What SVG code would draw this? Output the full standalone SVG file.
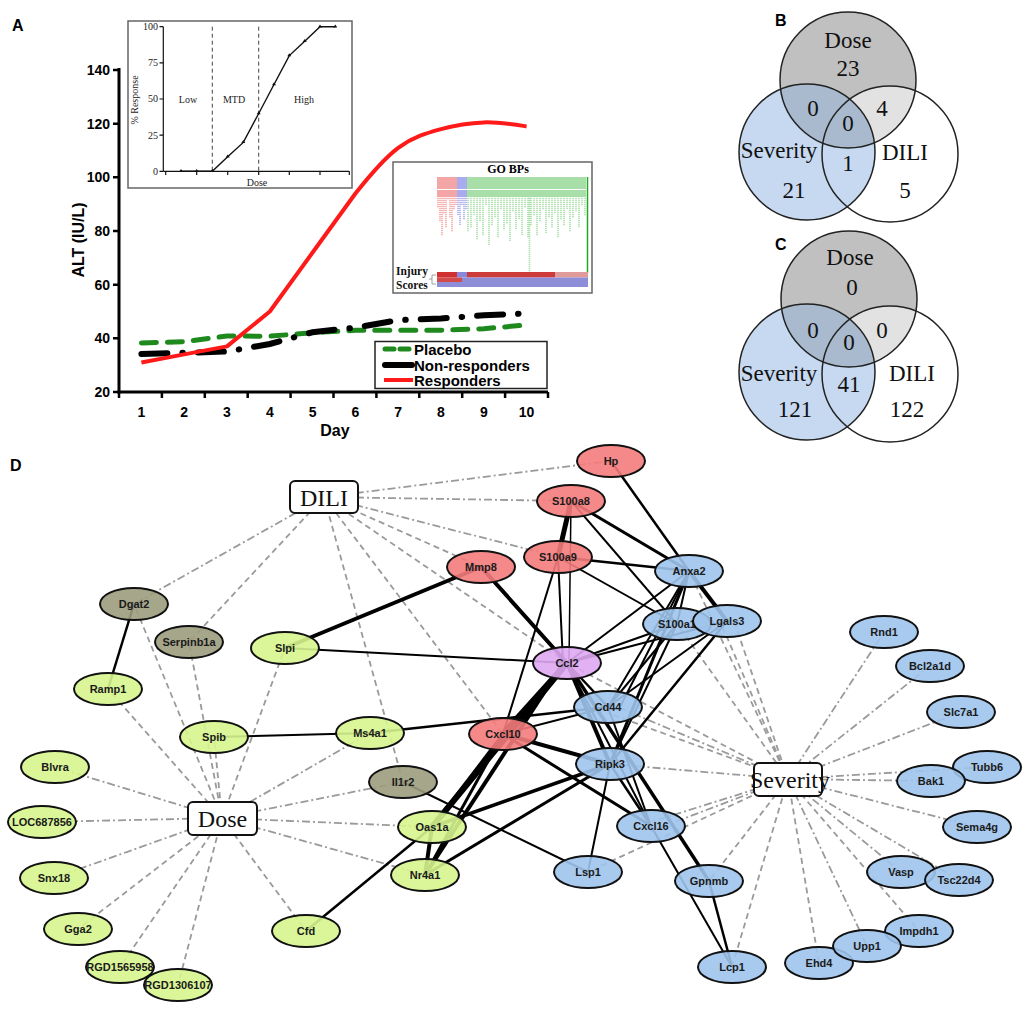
<svg xmlns="http://www.w3.org/2000/svg" width="1028" height="1011" viewBox="0 0 1028 1011">
<style>
.pl{font-family:"Liberation Sans",Arial,sans-serif;font-weight:bold;font-size:16px}
.ax{font-family:"Liberation Sans",Arial,sans-serif;font-weight:bold;font-size:14px;dominant-baseline:central}
.lg{font-family:"Liberation Sans",Arial,sans-serif;font-weight:bold;font-size:15px;dominant-baseline:central}
.st{font-family:"Liberation Serif","Times New Roman",serif;font-size:10px;fill:#222}
.vn{font-family:"Liberation Serif","Times New Roman",serif;font-size:23px;text-anchor:middle;dominant-baseline:central;fill:#111}
.vc{stroke:#222;stroke-width:1.5}
.nd{stroke:#111;stroke-width:2;fill-opacity:0.9}
.red{fill:#f47c7c}
.blu{fill:#9ec4ec}
.grn{fill:#d6f58e}
.olv{fill:#9c9c7e}
.pur{fill:#dfa9f2}
.nl{font-family:"Liberation Sans",Arial,sans-serif;font-weight:bold;font-size:11px;text-anchor:middle;dominant-baseline:central;fill:#1a1a1a}
.hub{fill:#fff;stroke:#111;stroke-width:2}
.hl{font-family:"Liberation Serif","Times New Roman",serif;font-size:24px;text-anchor:middle;dominant-baseline:central;fill:#111}
.g{stroke:#9a9a9a;stroke-width:1.8;fill:none;stroke-dasharray:8 3 2 3}
.gd{stroke-dasharray:6 4}
.k{stroke:#000;fill:none}
</style>
<defs>
<clipPath id="cSevB"><circle cx="807" cy="152" r="68"/></clipPath>
<clipPath id="cDiliB"><circle cx="890" cy="154" r="68"/></clipPath>
<clipPath id="cSevC"><circle cx="807" cy="372" r="68"/></clipPath>
<clipPath id="cDiliC"><circle cx="890" cy="374" r="68"/></clipPath>
</defs>
<rect width="1028" height="1011" fill="#fff"/>

<!-- Panel A -->
<g id="panelA">
<text class="pl" x="12" y="31">A</text>
<g id="axes" stroke="#000" stroke-width="3" fill="none">
<line x1="119" y1="68" x2="119" y2="393.5"/>
<line x1="117.5" y1="392" x2="548" y2="392"/>
<path d="M119 70H113M119 123.7H113M119 177.3H113M119 231H113M119 284.7H113M119 338.3H113M119 392H113" stroke-width="2.5"/>
<path d="M119 392V398M161.9 392V398M204.8 392V398M247.7 392V398M290.6 392V398M333.5 392V398M376.4 392V398M419.3 392V398M462.2 392V398M505.1 392V398M548 392V398" stroke-width="2.5"/>
</g>
<g class="ax" text-anchor="end">
<text x="110" y="70">140</text><text x="110" y="123.7">120</text><text x="110" y="177.3">100</text><text x="110" y="231">80</text><text x="110" y="284.7">60</text><text x="110" y="338.3">40</text><text x="110" y="392">20</text>
</g>
<g class="ax" text-anchor="middle">
<text x="141.4" y="412">1</text><text x="184.2" y="412">2</text><text x="227" y="412">3</text><text x="269.8" y="412">4</text><text x="312.6" y="412">5</text><text x="355.4" y="412">6</text><text x="398.2" y="412">7</text><text x="441" y="412">8</text><text x="483.8" y="412">9</text><text x="526.6" y="412">10</text>
</g>
<text class="pl" x="335" y="436" text-anchor="middle">Day</text>
<text class="pl" transform="translate(84,240) rotate(-90)" text-anchor="middle">ALT (IU/L)</text>

<polyline id="placebo" points="141.4,342.9 184.2,341.7 227,336 269.8,336.2 312.6,332.7 355.4,330.3 398.2,330.3 441,330.3 483.8,328.7 526.6,325" fill="none" stroke="#1e8a1e" stroke-width="5" stroke-dasharray="15 11" stroke-linecap="round"/>
<polyline id="nonresp" points="141.4,353.9 184.2,352.8 227,351.5 269.8,344 312.6,332.2 355.4,327.6 398.2,320.1 441,318.5 483.8,315.3 526.6,313.4" fill="none" stroke="#000" stroke-width="6" stroke-dasharray="26 15 0.5 15" stroke-linecap="round"/>
<path id="resp" d="M141.4,362.5 L184.2,354.4 L227,346.4 L269.8,311.5 L312.6,252.5 L355.4,193.5 C369.7,175.4 383.9,158.6 398.2,147.8 C412.5,137 426.7,133 441,129.1 C455.3,125.2 469.5,122.9 483.8,122.4 C498.1,121.9 512.3,124.2 526.6,126.4" fill="none" stroke="#ff1a1a" stroke-width="4" stroke-linejoin="round"/>

<g id="legend">
<rect x="375" y="341.5" width="172" height="47" fill="#fff" stroke="#222" stroke-width="1.5"/>
<line x1="385" y1="349" x2="412" y2="349" stroke="#1e8a1e" stroke-width="5" stroke-dasharray="9 6" stroke-linecap="round"/>
<line x1="385" y1="365" x2="412" y2="365" stroke="#000" stroke-width="6" stroke-linecap="round"/>
<line x1="384" y1="380" x2="413" y2="380" stroke="#ff1a1a" stroke-width="4"/>
<text class="lg" x="414" y="349">Placebo</text>
<text class="lg" x="414" y="365">Non-responders</text>
<text class="lg" x="414" y="380">Responders</text>
</g>

<g id="inset-dose">
<rect x="128" y="21" width="224" height="167" fill="#fff" stroke="#666" stroke-width="1.5"/>
<g stroke="#111" stroke-width="1.2" fill="none">
<line x1="163.3" y1="26.7" x2="163.3" y2="171.3"/>
<line x1="163.3" y1="171.3" x2="349.3" y2="171.3"/>
<path d="M163.3 26.7H159.5M163.3 62.9H159.5M163.3 99H159.5M163.3 135.2H159.5M163.3 171.3H159.5"/>
<path d="M165.7 171.3V175M196.7 171.3V175M227.7 171.3V175M258.7 171.3V175M289.3 171.3V175M320 171.3V175M349.3 171.3V175"/>
</g>
<g stroke="#444" stroke-width="1" stroke-dasharray="4 3">
<line x1="212.3" y1="26.7" x2="212.3" y2="171.3"/>
<line x1="258.7" y1="26.7" x2="258.7" y2="171.3"/>
</g>
<polyline points="181,171.3 196.7,171.3 212.3,171.3 227.7,156.8 243.3,142.4 258.7,113.5 274,84.5 289.3,55.6 304.7,41.2 320,26.7 335.3,26.7" fill="none" stroke="#111" stroke-width="1.4"/>
<g fill="#111">
<path d="M181 169l2 3h-4z M196.7 169l2 3h-4z M212.3 169l2 3h-4z M227.7 154.5l2 3h-4z M243.3 140.1l2 3h-4z M258.7 111.2l2 3h-4z M274 82.2l2 3h-4z M289.3 53.3l2 3h-4z M304.7 38.9l2 3h-4z M320 24.4l2 3h-4z M335.3 24.4l2 3h-4z"/>
</g>
<g class="st" text-anchor="end">
<text x="158" y="30">100</text><text x="158" y="66">75</text><text x="158" y="102">50</text><text x="158" y="138.5">25</text><text x="158" y="174.5">0</text>
</g>
<g class="st" text-anchor="middle">
<text x="188" y="103">Low</text><text x="234" y="103">MTD</text><text x="304" y="103">High</text>
<text x="257" y="186">Dose</text>
<text transform="translate(138,100) rotate(-90)">% Response</text>
</g>
</g>

<g id="inset-go">
<rect x="393" y="162" width="199" height="131" fill="#fff" stroke="#666" stroke-width="1.5"/>
<text x="508" y="169" text-anchor="middle" font-family="'Liberation Serif','Times New Roman',serif" font-weight="bold" font-size="12" dominant-baseline="central">GO BPs</text>
<rect x="437" y="177" width="20" height="20" fill="#f4a6a6"/>
<rect x="457" y="177" width="10" height="20" fill="#aaaaee"/>
<rect x="467" y="177" width="119" height="20" fill="#a8dfa8"/>
<line x1="437" y1="189.5" x2="586" y2="189.5" stroke="#fff" stroke-width="1"/>
<path d="M438 196V208M440 196V222M442 196V236M444 196V214M446 196V228M448 196V200M450 196V218M452 196V232M454 196V210M456 196V205" stroke="#f4a6a6" stroke-width="1.6" stroke-dasharray="1.2 0.8"/>
<path d="M458 196V215M460 196V225M462 196V205M464 196V220M466 196V210" stroke="#aaaaee" stroke-width="1.6" stroke-dasharray="1.2 0.8"/>
<path d="M468 196V232M471 196V228M474 196V215M477 196V240M480 196V222M483 196V236M486 196V205M489 196V245M492 196V226M495 196V218M498 196V238M501 196V210M504 196V230M507 196V224M510 196V241M513 196V212M516 196V229M519 196V219M522 196V235M525 196V208M528 196V238M529.5 196V272M531 196V226M534 196V216M537 196V236M540 196V222M543 196V210M546 196V233M549 196V218M552 196V228M555 196V214M558 196V238M561 196V220M564 196V226M567 196V209M570 196V232M573 196V218M576 196V212M579 196V228M582 196V206M585 196V216" stroke="#a8dfa8" stroke-width="1.6" stroke-dasharray="1.2 0.8"/>
<line x1="587.5" y1="177" x2="587.5" y2="273" stroke="#22aa22" stroke-width="1.5"/>
<rect x="437" y="272" width="20" height="5.5" fill="#d03030"/>
<rect x="457" y="272" width="10" height="5.5" fill="#8888dd"/>
<rect x="467" y="272" width="88" height="5.5" fill="#cc3a3a"/>
<rect x="555" y="272" width="33" height="5.5" fill="#e09a9a"/>
<rect x="437" y="277.5" width="25" height="4.5" fill="#d24a4a"/>
<rect x="462" y="277.5" width="126" height="4.5" fill="#8e8ed8"/>
<rect x="437" y="282" width="151" height="5" fill="#8e8ed8"/>
<path d="M436 275H432V284H436M432 279H429" stroke="#888" stroke-width="0.8" fill="none"/>
<g font-family="'Liberation Serif','Times New Roman',serif" font-weight="bold" font-size="11.5" fill="#111">
<text x="396" y="275">Injury</text>
<text x="396" y="289">Scores</text>
</g>
</g>
</g>

<!-- Panel B -->
<g id="panelB">
<text class="pl" x="775" y="26">B</text>
<circle cx="890" cy="154" r="68" fill="#fff"/>
<circle cx="848" cy="80" r="68" fill="#c0c0c0"/>
<circle cx="848" cy="80" r="68" fill="#e2e2e2" clip-path="url(#cDiliB)"/>
<circle cx="807" cy="152" r="68" fill="#c6d9f1"/>
<circle cx="848" cy="80" r="68" fill="#a9bace" clip-path="url(#cSevB)"/>
<g fill="none" class="vc">
<circle cx="848" cy="80" r="68"/><circle cx="807" cy="152" r="68"/><circle cx="890" cy="154" r="68"/>
</g>
<text class="vn" x="848" y="40">Dose</text>
<text class="vn" x="848" y="68">23</text>
<text class="vn" x="813" y="108">0</text>
<text class="vn" x="882" y="108">4</text>
<text class="vn" x="848" y="123">0</text>
<text class="vn" x="779" y="150">Severity</text>
<text class="vn" x="848" y="163">1</text>
<text class="vn" x="905" y="152">DILI</text>
<text class="vn" x="794" y="190">21</text>
<text class="vn" x="905" y="190">5</text>
</g>

<!-- Panel C -->
<g id="panelC">
<text class="pl" x="775" y="250">C</text>
<circle cx="890" cy="374" r="68" fill="#fff"/>
<circle cx="849" cy="299" r="68" fill="#c0c0c0"/>
<circle cx="849" cy="299" r="68" fill="#e2e2e2" clip-path="url(#cDiliC)"/>
<circle cx="807" cy="372" r="68" fill="#c6d9f1"/>
<circle cx="849" cy="299" r="68" fill="#a9bace" clip-path="url(#cSevC)"/>
<g fill="none" class="vc">
<circle cx="849" cy="299" r="68"/><circle cx="807" cy="372" r="68"/><circle cx="890" cy="374" r="68"/>
</g>
<text class="vn" x="850" y="257">Dose</text>
<text class="vn" x="852" y="287">0</text>
<text class="vn" x="813" y="330">0</text>
<text class="vn" x="882" y="330">0</text>
<text class="vn" x="849" y="342">0</text>
<text class="vn" x="779" y="373">Severity</text>
<text class="vn" x="849" y="384">41</text>
<text class="vn" x="912" y="373">DILI</text>
<text class="vn" x="795" y="409">121</text>
<text class="vn" x="907" y="409">122</text>
</g>

<!-- Panel D -->
<text class="pl" x="10" y="471">D</text>
<g id="connectors">
<g id="hub-edges" class="g">
<line x1="324" y1="497" x2="611" y2="461"/>
<line x1="324" y1="497" x2="571" y2="501"/>
<line x1="324" y1="497" x2="558" y2="557"/>
<line x1="324" y1="497" x2="481" y2="567" class="gd"/>
<line x1="324" y1="497" x2="567" y2="663" class="gd"/>
<line x1="324" y1="497" x2="503" y2="734" class="gd"/>
<line x1="324" y1="497" x2="403" y2="782" class="gd"/>
<line x1="324" y1="497" x2="189" y2="642" class="gd"/>
<line x1="324" y1="497" x2="134" y2="604"/>
<line x1="222" y1="818" x2="55" y2="767"/>
<line x1="222" y1="818" x2="42" y2="822"/>
<line x1="222" y1="818" x2="54" y2="878"/>
<line x1="222" y1="818" x2="78" y2="929" class="gd"/>
<line x1="222" y1="818" x2="120" y2="967" class="gd"/>
<line x1="222" y1="818" x2="178" y2="985" class="gd"/>
<line x1="222" y1="818" x2="306" y2="931" class="gd"/>
<line x1="222" y1="818" x2="425" y2="875"/>
<line x1="222" y1="818" x2="432" y2="827"/>
<line x1="222" y1="818" x2="403" y2="782"/>
<line x1="222" y1="818" x2="370" y2="733"/>
<line x1="222" y1="818" x2="285" y2="648" class="gd"/>
<line x1="222" y1="818" x2="214" y2="737" class="gd"/>
<line x1="222" y1="818" x2="189" y2="642" class="gd"/>
<line x1="222" y1="818" x2="134" y2="604" class="gd"/>
<line x1="222" y1="818" x2="108" y2="689" class="gd"/>
<line x1="788" y1="779" x2="689" y2="571" class="gd"/>
<line x1="788" y1="779" x2="677" y2="624" class="gd"/>
<line x1="788" y1="779" x2="720" y2="621" class="gd"/>
<line x1="788" y1="779" x2="734" y2="621" class="gd"/>
<line x1="788" y1="779" x2="567" y2="663" class="gd"/>
<line x1="788" y1="779" x2="608" y2="703"/>
<line x1="788" y1="779" x2="608" y2="713" class="gd"/>
<line x1="788" y1="779" x2="610" y2="764"/>
<line x1="788" y1="779" x2="651" y2="822"/>
<line x1="788" y1="779" x2="651" y2="831"/>
<line x1="788" y1="779" x2="588" y2="872" class="gd"/>
<line x1="788" y1="779" x2="709" y2="881" class="gd"/>
<line x1="788" y1="779" x2="732" y2="967" class="gd"/>
<line x1="788" y1="779" x2="819" y2="963" class="gd"/>
<line x1="788" y1="779" x2="867" y2="946"/>
<line x1="788" y1="779" x2="919" y2="931" class="gd"/>
<line x1="788" y1="779" x2="901" y2="872"/>
<line x1="788" y1="779" x2="959" y2="880"/>
<line x1="788" y1="779" x2="977" y2="827"/>
<line x1="788" y1="779" x2="931" y2="781"/>
<line x1="788" y1="779" x2="987" y2="767"/>
<line x1="788" y1="779" x2="961" y2="712"/>
<line x1="788" y1="779" x2="930" y2="666"/>
<line x1="788" y1="779" x2="884" y2="632"/>
</g>
<g id="gene-edges" class="k">
<line x1="134" y1="604" x2="108" y2="689" stroke-width="2.5"/>
<line x1="285" y1="648" x2="481" y2="567" stroke-width="4"/>
<line x1="285" y1="648" x2="567" y2="663" stroke-width="2"/>
<line x1="214" y1="737" x2="370" y2="733" stroke-width="2"/>
<line x1="370" y1="733" x2="608" y2="707" stroke-width="2.5"/>
<line x1="403" y1="782" x2="588" y2="872" stroke-width="2"/>
<line x1="432" y1="827" x2="306" y2="931" stroke-width="2.5"/>
<line x1="432" y1="827" x2="425" y2="875" stroke-width="4"/>
<line x1="432" y1="827" x2="567" y2="663" stroke-width="6"/>
<line x1="425" y1="875" x2="562" y2="665" stroke-width="4"/>
<line x1="432" y1="827" x2="503" y2="734" stroke-width="3"/>
<line x1="425" y1="875" x2="503" y2="734" stroke-width="3"/>
<line x1="432" y1="827" x2="610" y2="764" stroke-width="3.5"/>
<line x1="425" y1="875" x2="610" y2="764" stroke-width="3"/>
<line x1="611" y1="461" x2="689" y2="571" stroke-width="2.5"/>
<line x1="571" y1="501" x2="558" y2="557" stroke-width="5"/>
<line x1="571" y1="501" x2="689" y2="571" stroke-width="3"/>
<line x1="571" y1="501" x2="677" y2="624" stroke-width="2"/>
<line x1="571" y1="501" x2="569" y2="663" stroke-width="1.5"/>
<line x1="558" y1="557" x2="563" y2="663" stroke-width="2"/>
<line x1="558" y1="557" x2="689" y2="571" stroke-width="2.5"/>
<line x1="558" y1="557" x2="677" y2="624" stroke-width="2"/>
<line x1="558" y1="557" x2="503" y2="734" stroke-width="2"/>
<line x1="481" y1="567" x2="567" y2="663" stroke-width="4"/>
<line x1="689" y1="571" x2="567" y2="663" stroke-width="2"/>
<line x1="689" y1="571" x2="677" y2="624" stroke-width="2"/>
<line x1="689" y1="571" x2="727" y2="621" stroke-width="4"/>
<line x1="689" y1="571" x2="608" y2="707" stroke-width="2"/>
<line x1="689" y1="571" x2="620" y2="707" stroke-width="2"/>
<line x1="689" y1="571" x2="610" y2="764" stroke-width="3"/>
<line x1="567" y1="663" x2="677" y2="624" stroke-width="2"/>
<line x1="567" y1="663" x2="727" y2="621" stroke-width="2"/>
<line x1="567" y1="663" x2="608" y2="707" stroke-width="2.5"/>
<line x1="567" y1="663" x2="610" y2="764" stroke-width="4"/>
<line x1="567" y1="663" x2="503" y2="734" stroke-width="6"/>
<line x1="567" y1="663" x2="709" y2="881" stroke-width="3.5"/>
<line x1="567" y1="663" x2="651" y2="826" stroke-width="2"/>
<line x1="503" y1="734" x2="608" y2="707" stroke-width="2"/>
<line x1="503" y1="734" x2="610" y2="764" stroke-width="4"/>
<line x1="503" y1="734" x2="651" y2="826" stroke-width="3"/>
<line x1="608" y1="707" x2="677" y2="624" stroke-width="2"/>
<line x1="608" y1="707" x2="727" y2="621" stroke-width="2"/>
<line x1="610" y1="764" x2="677" y2="624" stroke-width="2"/>
<line x1="610" y1="764" x2="727" y2="621" stroke-width="2.5"/>
<line x1="610" y1="764" x2="588" y2="872" stroke-width="2"/>
<line x1="610" y1="764" x2="651" y2="826" stroke-width="2.5"/>
<line x1="608" y1="707" x2="651" y2="826" stroke-width="2"/>
<line x1="651" y1="826" x2="732" y2="967" stroke-width="2"/>
<line x1="709" y1="881" x2="732" y2="967" stroke-width="2.5"/>
</g>
</g>

<g id="nodes">
<g id="n-Hp"><ellipse class="nd red" cx="611" cy="461" rx="34" ry="16"/><text class="nl" x="611" y="461">Hp</text></g>
<g id="n-S100a8"><ellipse class="nd red" cx="571" cy="501" rx="34" ry="16"/><text class="nl" x="571" y="501">S100a8</text></g>
<g id="n-S100a9"><ellipse class="nd red" cx="558" cy="557" rx="34" ry="16"/><text class="nl" x="558" y="557">S100a9</text></g>
<g id="n-Mmp8"><ellipse class="nd red" cx="481" cy="567" rx="34" ry="16"/><text class="nl" x="481" y="567">Mmp8</text></g>
<g id="n-Cxcl10"><ellipse class="nd red" cx="503" cy="734" rx="34" ry="16"/><text class="nl" x="503" y="734">Cxcl10</text></g>
<g id="n-Ccl2"><ellipse class="nd pur" cx="567" cy="663" rx="34" ry="16"/><text class="nl" x="567" y="663">Ccl2</text></g>
<g id="n-Anxa2"><ellipse class="nd blu" cx="689" cy="571" rx="34" ry="16"/><text class="nl" x="689" y="571">Anxa2</text></g>
<g id="n-S100a1"><ellipse class="nd blu" cx="677" cy="624" rx="34" ry="16"/><text class="nl" x="677" y="624">S100a1</text></g>
<g id="n-Lgals3"><ellipse class="nd blu" cx="727" cy="621" rx="34" ry="16"/><text class="nl" x="727" y="621">Lgals3</text></g>
<g id="n-Cd44"><ellipse class="nd blu" cx="608" cy="707" rx="34" ry="16"/><text class="nl" x="608" y="707">Cd44</text></g>
<g id="n-Ripk3"><ellipse class="nd blu" cx="610" cy="764" rx="34" ry="16"/><text class="nl" x="610" y="764">Ripk3</text></g>
<g id="n-Cxcl16"><ellipse class="nd blu" cx="651" cy="826" rx="34" ry="16"/><text class="nl" x="651" y="826">Cxcl16</text></g>
<g id="n-Lsp1"><ellipse class="nd blu" cx="588" cy="872" rx="34" ry="16"/><text class="nl" x="588" y="872">Lsp1</text></g>
<g id="n-Gpnmb"><ellipse class="nd blu" cx="709" cy="881" rx="34" ry="16"/><text class="nl" x="709" y="881">Gpnmb</text></g>
<g id="n-Lcp1"><ellipse class="nd blu" cx="732" cy="967" rx="34" ry="16"/><text class="nl" x="732" y="967">Lcp1</text></g>
<g id="n-Rnd1"><ellipse class="nd blu" cx="884" cy="632" rx="34" ry="16"/><text class="nl" x="884" y="632">Rnd1</text></g>
<g id="n-Bcl2a1d"><ellipse class="nd blu" cx="930" cy="666" rx="34" ry="16"/><text class="nl" x="930" y="666">Bcl2a1d</text></g>
<g id="n-Slc7a1"><ellipse class="nd blu" cx="961" cy="712" rx="34" ry="16"/><text class="nl" x="961" y="712">Slc7a1</text></g>
<g id="n-Tubb6"><ellipse class="nd blu" cx="987" cy="767" rx="34" ry="16"/><text class="nl" x="987" y="767">Tubb6</text></g>
<g id="n-Bak1"><ellipse class="nd blu" cx="931" cy="781" rx="34" ry="16"/><text class="nl" x="931" y="781">Bak1</text></g>
<g id="n-Sema4g"><ellipse class="nd blu" cx="977" cy="827" rx="34" ry="16"/><text class="nl" x="977" y="827">Sema4g</text></g>
<g id="n-Vasp"><ellipse class="nd blu" cx="901" cy="872" rx="34" ry="16"/><text class="nl" x="901" y="872">Vasp</text></g>
<g id="n-Tsc22d4"><ellipse class="nd blu" cx="959" cy="880" rx="34" ry="16"/><text class="nl" x="959" y="880">Tsc22d4</text></g>
<g id="n-Impdh1"><ellipse class="nd blu" cx="919" cy="931" rx="34" ry="16"/><text class="nl" x="919" y="931">Impdh1</text></g>
<g id="n-Ehd4"><ellipse class="nd blu" cx="819" cy="963" rx="34" ry="16"/><text class="nl" x="819" y="963">Ehd4</text></g>
<g id="n-Upp1"><ellipse class="nd blu" cx="867" cy="946" rx="34" ry="16"/><text class="nl" x="867" y="946">Upp1</text></g>
<g id="n-Dgat2"><ellipse class="nd olv" cx="134" cy="604" rx="34" ry="16"/><text class="nl" x="134" y="604">Dgat2</text></g>
<g id="n-Serpinb1a"><ellipse class="nd olv" cx="189" cy="642" rx="34" ry="16"/><text class="nl" x="189" y="642">Serpinb1a</text></g>
<g id="n-Il1r2"><ellipse class="nd olv" cx="403" cy="782" rx="34" ry="16"/><text class="nl" x="403" y="782">Il1r2</text></g>
<g id="n-Slpi"><ellipse class="nd grn" cx="285" cy="648" rx="34" ry="16"/><text class="nl" x="285" y="648">Slpi</text></g>
<g id="n-Ramp1"><ellipse class="nd grn" cx="108" cy="689" rx="34" ry="16"/><text class="nl" x="108" y="689">Ramp1</text></g>
<g id="n-Spib"><ellipse class="nd grn" cx="214" cy="737" rx="34" ry="16"/><text class="nl" x="214" y="737">Spib</text></g>
<g id="n-Ms4a1"><ellipse class="nd grn" cx="370" cy="733" rx="34" ry="16"/><text class="nl" x="370" y="733">Ms4a1</text></g>
<g id="n-Blvra"><ellipse class="nd grn" cx="55" cy="767" rx="34" ry="16"/><text class="nl" x="55" y="767">Blvra</text></g>
<g id="n-LOC687856"><ellipse class="nd grn" cx="42" cy="822" rx="34" ry="16"/><text class="nl" x="42" y="822">LOC687856</text></g>
<g id="n-Snx18"><ellipse class="nd grn" cx="54" cy="878" rx="34" ry="16"/><text class="nl" x="54" y="878">Snx18</text></g>
<g id="n-Gga2"><ellipse class="nd grn" cx="78" cy="929" rx="34" ry="16"/><text class="nl" x="78" y="929">Gga2</text></g>
<g id="n-RGD1565958"><ellipse class="nd grn" cx="120" cy="967" rx="34" ry="16"/><text class="nl" x="120" y="967">RGD1565958</text></g>
<g id="n-RGD1306107"><ellipse class="nd grn" cx="178" cy="985" rx="34" ry="16"/><text class="nl" x="178" y="985">RGD1306107</text></g>
<g id="n-Cfd"><ellipse class="nd grn" cx="306" cy="931" rx="34" ry="16"/><text class="nl" x="306" y="931">Cfd</text></g>
<g id="n-Oas1a"><ellipse class="nd grn" cx="432" cy="827" rx="34" ry="16"/><text class="nl" x="432" y="827">Oas1a</text></g>
<g id="n-Nr4a1"><ellipse class="nd grn" cx="425" cy="875" rx="34" ry="16"/><text class="nl" x="425" y="875">Nr4a1</text></g>
<g id="hub-DILI"><rect class="hub" x="290" y="481" width="68" height="32" rx="5"/><text class="hl" x="324" y="498">DILI</text></g>
<g id="hub-Dose"><rect class="hub" x="188" y="802" width="69" height="33" rx="5"/><text class="hl" x="222.5" y="819">Dose</text></g>
<g id="hub-Severity"><rect class="hub" x="754" y="763" width="68" height="33" rx="5"/><text class="hl" x="790" y="780">Severity</text></g>
</g>
</svg>
